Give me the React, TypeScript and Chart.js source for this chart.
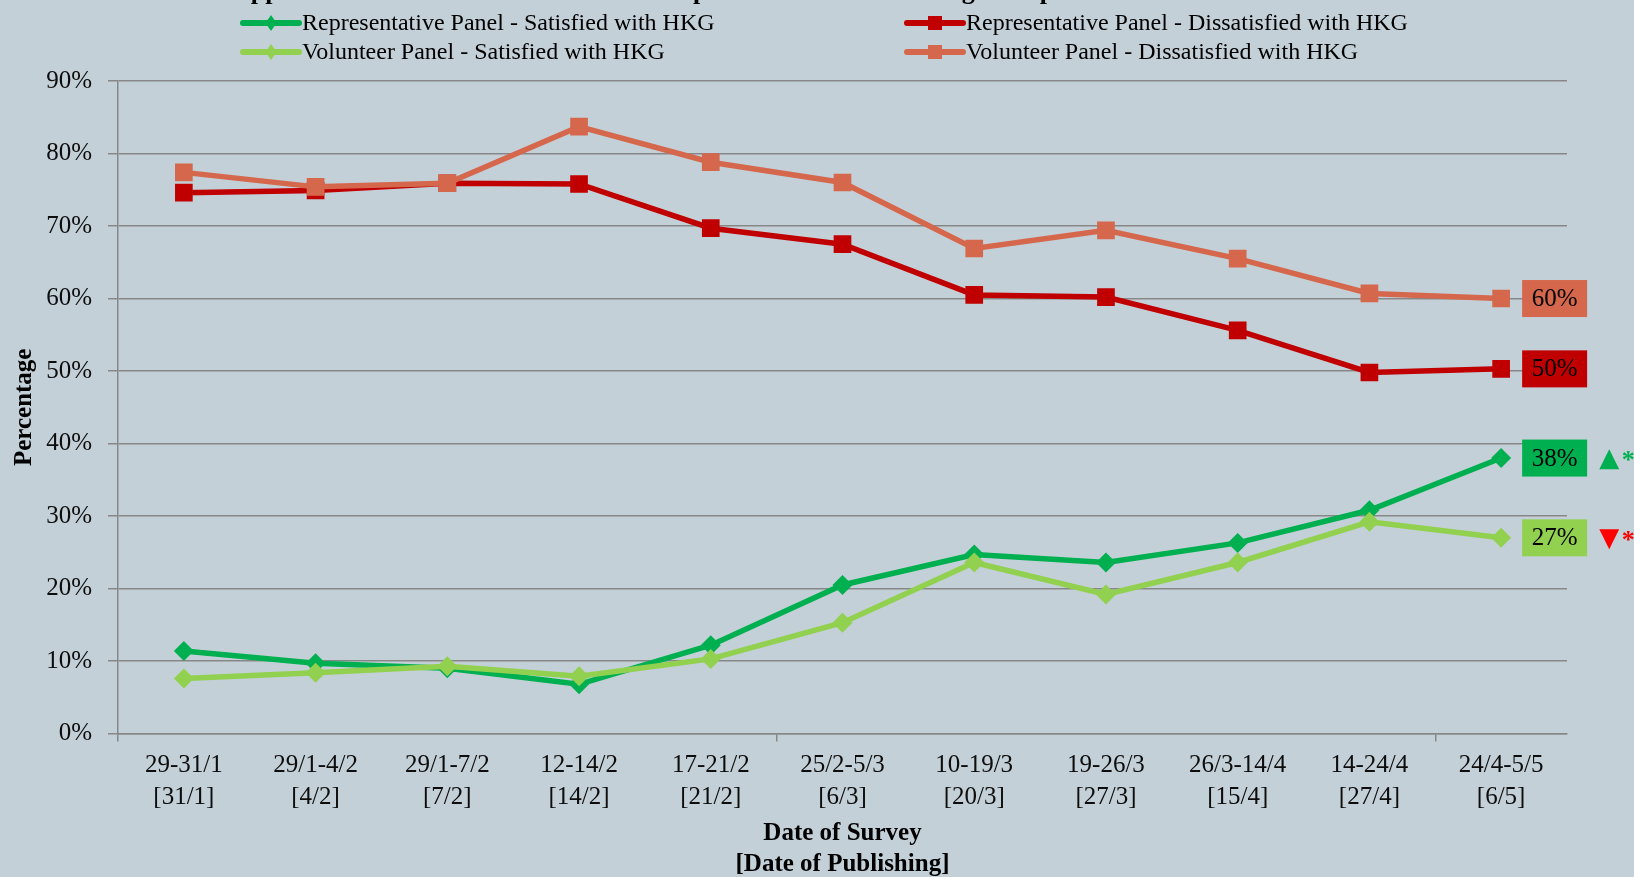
import { useEffect, useRef } from "react";
import { Chart, registerables } from "chart.js";

Chart.register(...registerables);

const surveyDates = ["29-31/1", "29/1-4/2", "29/1-7/2", "12-14/2", "17-21/2", "25/2-5/3", "10-19/3", "19-26/3", "26/3-14/4", "14-24/4", "24/4-5/5"];
const publishDates = ["[31/1]", "[4/2]", "[7/2]", "[14/2]", "[21/2]", "[6/3]", "[20/3]", "[27/3]", "[15/4]", "[27/4]", "[6/5]"];

const repSatisfied = [11.4, 9.7, 9.0, 6.8, 12.2, 20.5, 24.7, 23.6, 26.3, 30.8, 38.0];
const volSatisfied = [7.6, 8.4, 9.3, 7.9, 10.3, 15.3, 23.6, 19.2, 23.6, 29.2, 27.0];
const repDissatisfied = [74.6, 74.9, 75.9, 75.8, 69.7, 67.5, 60.5, 60.2, 55.6, 49.8, 50.3];
const volDissatisfied = [77.4, 75.4, 75.9, 83.7, 78.8, 76.0, 66.9, 69.4, 65.5, 60.7, 60.0];

const seriesNames = [
  "Representative Panel - Satisfied with HKG",
  "Volunteer Panel - Satisfied with HKG",
  "Representative Panel - Dissatisfied with HKG",
  "Volunteer Panel - Dissatisfied with HKG",
];
const seriesColors = ["#00B050", "#92D050", "#C00000", "#D5674C"];
const changeMarks = ["▲", "▼", "", ""];
const changeColors = ["#00B050", "#FF0000", "", ""];

const titleText = "Approval Rate of HKSAR Government's performance in Handling the Epidemic";
const yAxisTitle = "Percentage";
const xAxisTitle = ["Date of Survey", "[Date of Publishing]"];

const FONT = "'Liberation Serif', 'Times New Roman', serif";
const BG = "#C4D0D7";
const GRID = "#878787";

export default function App() {
  const ref = useRef<HTMLCanvasElement | null>(null);

  useEffect(() => {
    document.body.style.margin = "0";
    const canvas = ref.current;
    if (!canvas) return;

    const bgPlugin = {
      id: "bg",
      beforeDraw(chart: any) {
        const c = chart.ctx;
        c.save();
        c.fillStyle = BG;
        c.fillRect(0, 0, chart.width, chart.height);
        c.restore();
      },
    };

    const overlayPlugin = {
      id: "overlay",
      afterDraw(chart: any) {
        const c = chart.ctx;
        c.save();
        // clipped title
        c.fillStyle = "#000";
        c.font = `bold 26px ${FONT}`;
        c.textAlign = "left";
        c.textBaseline = "alphabetic";
        c.fillText(titleText, 232, -1);

        // custom legend
        const legendItems = [
          { i: 0, x: 243, y: 23 },
          { i: 2, x: 907, y: 23 },
          { i: 1, x: 243, y: 52 },
          { i: 3, x: 907, y: 52 },
        ];
        legendItems.forEach(({ i, x, y }) => {
          const ds = chart.data.datasets[i];
          c.strokeStyle = ds.borderColor;
          c.lineWidth = 6;
          c.lineCap = "round";
          c.beginPath();
          c.moveTo(x, y);
          c.lineTo(x + 56, y);
          c.stroke();
          c.fillStyle = ds.borderColor;
          c.beginPath();
          if (ds.pointStyle === "rectRot") {
            const r = 8;
            c.moveTo(x + 28, y - r);
            c.lineTo(x + 28 + r * 0.7, y);
            c.lineTo(x + 28, y + r);
            c.lineTo(x + 28 - r * 0.7, y);
            c.closePath();
            c.fill();
          } else {
            c.fillRect(x + 28 - 7, y - 7, 14, 14);
          }
          c.fillStyle = "#000";
          c.font = `24px ${FONT}`;
          c.textAlign = "left";
          c.textBaseline = "middle";
          c.fillText(ds.label, x + 59, y + 1);
        });

        // end value boxes
        chart.data.datasets.forEach((ds: any, i: number) => {
          const meta = chart.getDatasetMeta(i);
          const pt = meta.data[meta.data.length - 1];
          const v = ds.data[ds.data.length - 1];
          const x0 = pt.x + 21;
          const y = pt.y;
          c.fillStyle = ds.borderColor;
          c.fillRect(x0, y - 18.5, 65, 37);
          c.fillStyle = "#000";
          c.font = `25px ${FONT}`;
          c.textAlign = "center";
          c.textBaseline = "middle";
          c.fillText(`${Math.round(v)}%`, x0 + 32.5, y + 1);
          if (changeMarks[i]) {
            c.fillStyle = changeColors[i];
            c.font = `26px 'DejaVu Sans', sans-serif`;
            c.fillText(changeMarks[i], x0 + 87, y + 1);
            c.font = `bold 26px ${FONT}`;
            c.fillText("*", x0 + 106, y + 3);
          }
        });
        c.restore();
      },
    };

    const mk = (idx: number, data: number[], style: string, order: number) => ({
      label: seriesNames[idx],
      data,
      borderColor: seriesColors[idx],
      backgroundColor: seriesColors[idx],
      borderWidth: 5.5,
      pointStyle: style,
      pointRadius: style === "rect" ? 12.5 : 10,
      pointBorderWidth: 0,
      tension: 0,
      order,
    });

    const chart = new Chart(canvas, {
      type: "line",
      data: {
        labels: surveyDates.map((s, i) => [s, publishDates[i]]),
        datasets: [
          mk(0, repSatisfied, "rectRot", 1),
          mk(1, volSatisfied, "rectRot", 0),
          mk(2, repDissatisfied, "rect", 1),
          mk(3, volDissatisfied, "rect", 0),
        ],
      },
      options: {
        responsive: false,
        animation: false,
        devicePixelRatio: 1,
        layout: { padding: { top: 81, right: 67, left: 0, bottom: 0 } },
        plugins: {
          legend: { display: false },
          tooltip: { enabled: false },
          title: { display: false },
        },
        scales: {
          x: {
            type: "category",
            offset: true,
            grid: {
              offset: true,
              drawOnChartArea: false,
              drawTicks: true,
              tickLength: 8,
              lineWidth: 1.5,
              color: (ctx: any) => (ctx.index % 5 === 0 ? GRID : "rgba(0,0,0,0)"),
            },
            border: { display: true, color: GRID, width: 1.5 },
            ticks: {
              color: "#0d0d0d",
              font: { family: FONT, size: 25, lineHeight: 1.28 },
              padding: 8,
              maxRotation: 0,
              autoSkip: false,
            },
            title: {
              display: true,
              text: xAxisTitle,
              color: "#000",
              font: { family: FONT, size: 25, weight: "bold", lineHeight: 1.25 },
              padding: { top: 0, bottom: -3 },
            },
            afterFit(scale: any) {
              scale.height = 143.4;
            },
          },
          y: {
            min: 0,
            max: 90,
            ticks: {
              stepSize: 10,
              color: "#0d0d0d",
              font: { family: FONT, size: 25 },
              padding: 16,
              callback: (v: any) => `${v}%`,
            },
            grid: { color: GRID, lineWidth: 1.5, tickLength: 10 },
            border: { display: true, color: GRID, width: 1.5 },
            title: {
              display: true,
              text: yAxisTitle,
              color: "#000",
              font: { family: FONT, size: 25, weight: "bold" },
              padding: { top: 10, bottom: 0 },
            },
            afterFit(scale: any) {
              scale.width = 118;
            },
          },
        },
      },
      plugins: [bgPlugin, overlayPlugin],
    } as any);

    return () => chart.destroy();
  }, []);

  return <canvas ref={ref} width={1634} height={877} style={{ display: "block" }} />;
}
